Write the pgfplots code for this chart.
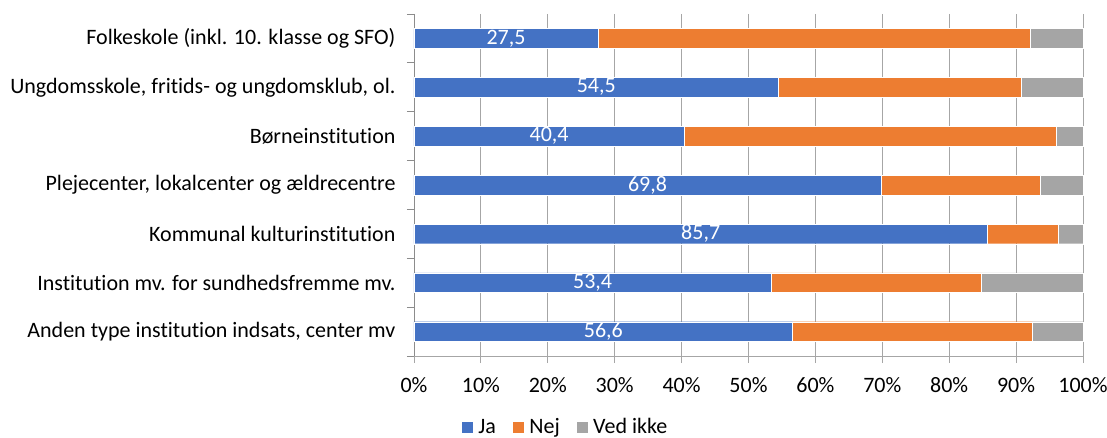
\documentclass[border=0pt]{standalone}
\usepackage{fontspec}
\setmainfont{Carlito}[Ligatures=NoCommon]
\usepackage{pgfplots}
\pgfplotsset{compat=1.18}
\definecolor{cJa}{HTML}{4472C4}
\definecolor{cNej}{HTML}{ED7D31}
\definecolor{cVI}{HTML}{A5A5A5}
\definecolor{cGrid}{HTML}{A6A6A6}
\definecolor{cAxis}{HTML}{8C8C8C}
\pgfplotsset{base/.style={
  scale only axis,
  width=669pt, height=342pt,
  xmin=0, xmax=100,
  ymin=-0.5, ymax=6.5,
  y dir=reverse,
  at={(0,0)}, anchor=south west,
}}
\begin{document}
\fontsize{22}{26}\selectfont
\begin{tikzpicture}
\begin{axis}[
  base,
  xbar stacked,
  bar width=19.7pt,
  ytick={0,1,2,3,4,5,6},
  minor ytick={-0.5,0.5,...,6.5},
  yticklabels={{Folkeskole (inkl. 10. klasse og SFO)},{Ungdomsskole, fritids- og ungdomsklub, ol.},{Børneinstitution},{Plejecenter, lokalcenter og ældrecentre},{Kommunal kulturinstitution},{Institution mv. for sundhedsfremme mv.},{Anden type institution indsats, center mv}},
  xtick={0,10,...,100},
  xticklabel={\pgfmathprintnumber{\tick}\%},
  /pgf/number format/assume math mode=true,
  xmajorgrids,
  grid style={cGrid, line width=0.8pt},
  axis x line*=bottom,
  axis y line*=left,
  x axis line style={draw=cGrid, line width=0.8pt, -},
  y axis line style={draw=cAxis, line width=0.8pt, -},
  xtick style={draw=cGrid, line width=0.8pt},
  tick align=outside,
  major tick length=7pt,
  minor tick length=7pt,
  major y tick style={draw=none},
  minor y tick style={draw=cAxis, line width=0.8pt},
  tick label style={font=\fontsize{22}{26}\selectfont},
  yticklabel style={xshift=-4pt},
  xticklabel style={yshift=-7pt},
  legend style={at={(rel axis cs:0.226,-0.17)}, anchor=north, draw=none, fill=none, font=\fontsize{22}{26}\selectfont, legend columns=-1, /tikz/every even column/.append style={column sep=14pt}},
  legend image code/.code={\fill[#1] (0pt,-6pt) rectangle (12pt,6pt); \path (15pt,0pt);},
  clip=false,
]
\addplot+[fill=cJa, draw=white, line width=0.4pt] coordinates {(27.5,0) (54.5,1) (40.4,2) (69.8,3) (85.7,4) (53.4,5) (56.6,6)};
\addplot+[fill=cNej, draw=white, line width=0.4pt] coordinates {(64.6,0) (36.3,1) (55.6,2) (23.8,3) (10.6,4) (31.4,5) (35.8,6)};
\addplot+[fill=cVI, draw=white, line width=0.4pt] coordinates {(7.9,0) (9.2,1) (4.0,2) (6.4,3) (3.7,4) (15.2,5) (7.6,6)};
\legend{Ja,Nej,Ved ikke}
\coordinate (ll) at (rel axis cs:0,0);
\coordinate (ur) at (rel axis cs:1,1);
\end{axis}
\begin{axis}[base, hide axis, clip=false]
\addplot[only marks, mark=none,
  point meta=explicit symbolic,
  nodes near coords,
  nodes near coords style={text=white, anchor=center, font=\fontsize{22}{26}\selectfont},
] table[meta=lab, x expr=\thisrow{ja}/2, y=row] {
ja row lab
27.5 0 27,5
54.5 1 54,5
40.4 2 40,4
69.8 3 69,8
85.7 4 85,7
53.4 5 53,4
56.6 6 56,6
};
\end{axis}
\pgfresetboundingbox
\path ([xshift=-414pt,yshift=-82pt]ll) rectangle ([xshift=24pt,yshift=14pt]ur);
\end{tikzpicture}
\end{document}
